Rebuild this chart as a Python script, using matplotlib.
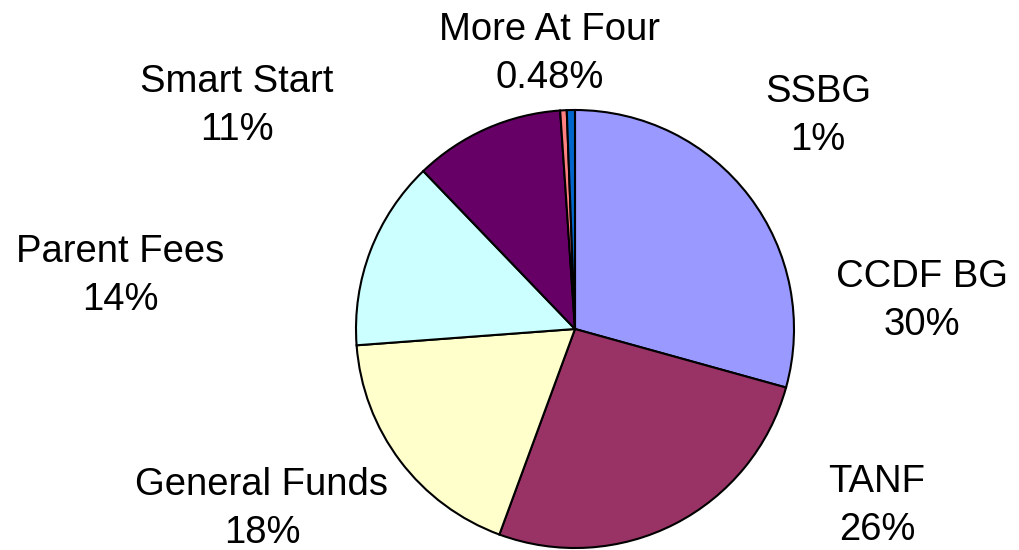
import matplotlib
matplotlib.use("Agg")
import matplotlib.pyplot as plt

# Funding sources, clockwise from 12 o'clock
sources = ["CCDF BG", "TANF", "General Funds", "Parent Fees",
           "Smart Start", "More At Four", "SSBG"]
shares = [29.3, 26.3, 18.2, 14.0, 11.1, 0.48, 0.6]
pct_labels = ["30%", "26%", "18%", "14%", "11%", "0.48%", "1%"]
colors = ["#9999FF", "#993366", "#FFFFCC", "#CCFFFF",
          "#660066", "#FF8080", "#0066CC"]

# label block centres (pixels from top-left of a 1019x550 canvas)
label_pos = [(922, 301), (877, 506), (262, 509), (120, 276),
             (237, 106), (550, 54), (818, 116)]

W, H = 1019, 550
fig = plt.figure(figsize=(W / 100, H / 100), dpi=100)
ax = fig.add_axes([0, 0, 1, 1])

ax.pie(shares, colors=colors, startangle=90, counterclock=False,
       center=(575, H - 329), radius=219, frame=True,
       wedgeprops=dict(edgecolor="black", linewidth=1.5))
ax.set_xlim(0, W)
ax.set_ylim(0, H)
ax.set_aspect("equal")
ax.axis("off")

for name, pct, (x, y) in zip(sources, pct_labels, label_pos):
    ax.text(x, H - y, f"{name}\n{pct}", ha="center", va="center",
            fontsize=27.5, family="Liberation Sans", linespacing=1.45)

fig.savefig("out.png", dpi=100)
